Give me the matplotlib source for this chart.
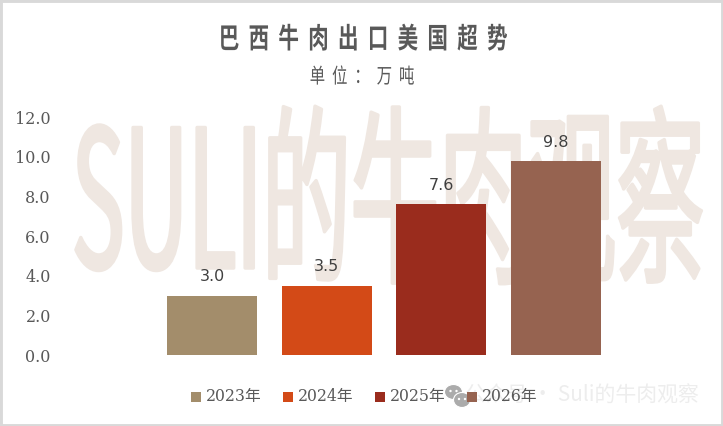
import matplotlib
matplotlib.use("Agg")
import matplotlib.pyplot as plt
import matplotlib.patheffects as pe
from matplotlib.patches import Rectangle, Ellipse
from matplotlib.transforms import Affine2D

W, H = 723, 426
TITLE = "巴  西  牛  肉  出  口  美  国  超  势"
SUBTITLE = "单  位  ：  万  吨"
YEARS = ["2023年", "2024年", "2025年", "2026年"]
VALUES = [3.0, 3.5, 7.6, 9.8]
COLORS = ["#A38D6B", "#D34A17", "#9A2C1D", "#966350"]
YTICKS = [0, 2, 4, 6, 8, 10, 12]
WATERMARK = "SULI的牛肉观察"
STAMP = "公众号 · Suli的牛肉观察"
CJK = "Noto Sans CJK SC"


class Stretch(pe.AbstractPathEffect):
    """Stretch a text horizontally about a pixel x, keeping it a real Text."""
    def __init__(self, sx, cx, stroke=0):
        super().__init__()
        self.sx, self.cx, self.stroke = sx, cx, stroke

    def draw_path(self, renderer, gc, tpath, affine, rgbFace=None):
        a = affine + Affine2D().translate(-self.cx, 0).scale(self.sx, 1).translate(self.cx, 0)
        if self.stroke:
            g = renderer.new_gc()
            g.copy_properties(gc)
            g.set_foreground(rgbFace)
            g.set_linewidth(self.stroke)
            renderer.draw_path(g, tpath, a, rgbFace)
            g.restore()
        else:
            renderer.draw_path(gc, tpath, a, rgbFace)


fig = plt.figure(figsize=(W / 100, H / 100), dpi=100, facecolor="white")


def fx(px):
    return px / W


def fy(py):
    return 1 - py / H


# outer frame
fig.add_artist(Rectangle((0, 0), 1, 1, transform=fig.transFigure, fill=False,
                         ec="#D9D9D9", lw=3.5, zorder=-2))

# background watermark
fig.text(fx(388), fy(268), WATERMARK, family=[CJK], fontsize=138, color="#EFE7E1",
         ha="center", va="baseline", zorder=-1,
         path_effects=[Stretch(0.4615, 388, stroke=2.5)])

# axes: y=0 at py 355, y=12 at py 117
left, right, top, bottom = 155, 613, 117, 355
ax = fig.add_axes([fx(left), fy(bottom), fx(right - left), (bottom - top) / H])
ax.patch.set_alpha(0)
ax.set_xlim(-0.5, 3.5)
ax.set_ylim(0, 12)
bars = ax.bar(range(4), VALUES, width=0.79, color=COLORS, zorder=3)
for x, v in zip(range(4), VALUES):
    ax.annotate(f"{v:.1f}", (x, v), xytext=(0, 8), textcoords="offset points",
                ha="center", va="bottom", fontsize=11.5, color="#404040",
                family="DejaVu Sans", zorder=4)
for s in ax.spines.values():
    s.set_visible(False)
ax.set_xticks([])
ax.set_yticks(YTICKS)
ax.set_yticklabels([f"{t:.1f}" for t in YTICKS], family="DejaVu Serif", fontsize=11.5,
                   color="#595959")
ax.tick_params(axis="y", length=0, pad=75)

# titles
fig.text(fx(363.5), fy(40), TITLE, family=[CJK], fontsize=20.5, weight="bold",
         color="#595959", ha="center", va="center",
         path_effects=[Stretch(0.72, 363.5)])
fig.text(fx(362), fy(77), SUBTITLE, family=[CJK], fontsize=15,
         color="#595959", ha="center", va="center",
         path_effects=[Stretch(0.74, 362)])

# legend
leg_x = [191, 283, 375, 467]
for px, label, c in zip(leg_x, YEARS, COLORS):
    fig.add_artist(Rectangle((fx(px), fy(402)), 10 / W, 10 / H, transform=fig.transFigure,
                             fc=c, ec="none", zorder=6))
    fig.text(fx(px + 14.5), fy(397), label, family=["DejaVu Serif", CJK], fontsize=11.3,
             color="#595959", ha="left", va="center", zorder=3)

# WeChat stamp
fig.text(fx(699), fy(396), STAMP, family=[CJK], fontsize=15, color="#EDEDED",
         ha="right", va="center", zorder=2)
grey = "#ABABAB"
for cx, cy, rx, ry in [(453.5, 392, 9, 7.5), (462, 400, 8.5, 7.5)]:
    fig.add_artist(Ellipse((fx(cx), fy(cy)), 2 * rx / W, 2 * ry / H, transform=fig.transFigure,
                           fc=grey, ec="white", lw=0.8, zorder=4))
    for dx in (-3, 3):
        fig.add_artist(Ellipse((fx(cx + dx), fy(cy - 1)), 2.4 / W, 2.4 / H,
                               transform=fig.transFigure, fc="white", ec="none", zorder=5))

fig.savefig("out.png", dpi=100)
